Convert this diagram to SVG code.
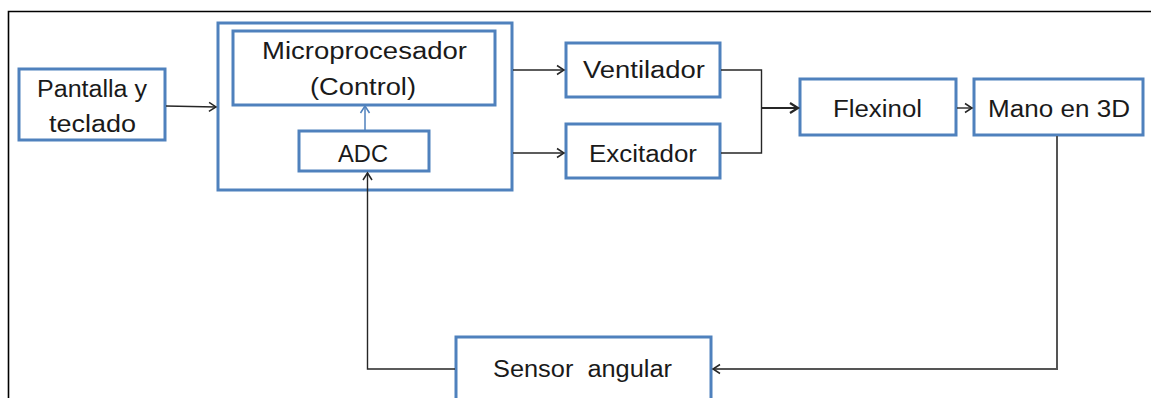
<svg xmlns="http://www.w3.org/2000/svg" width="1151" height="398" viewBox="0 0 1151 398">
  <style>
    .box { fill: #ffffff; stroke: #4f81bd; stroke-width: 3; }
    .lbl { font-family: "Liberation Sans", Arial, sans-serif; font-size: 23px; fill: #1a1a1a; text-anchor: start; }
    .wire { fill: none; stroke: #262626; stroke-width: 1.4; }
    .wire-bold { fill: none; stroke: #262626; stroke-width: 2.2; }
    .wire-grey { fill: none; stroke: #555555; stroke-width: 2; }
    .frame { fill: none; stroke: #000000; stroke-width: 1.6; }
  </style>
  <defs>
    <marker id="arr" markerUnits="userSpaceOnUse" markerWidth="12" markerHeight="12" refX="9" refY="6" orient="auto">
      <path d="M2,1.5 L9,6 L2,10.5" fill="none" stroke="#262626" stroke-width="1.5"/>
    </marker>
    <marker id="arrBold" markerUnits="userSpaceOnUse" markerWidth="14" markerHeight="14" refX="11" refY="7" orient="auto">
      <path d="M3,2 L11,7 L3,12" fill="none" stroke="#262626" stroke-width="2.2"/>
    </marker>
    <marker id="arrBlue" markerUnits="userSpaceOnUse" markerWidth="12" markerHeight="12" refX="9" refY="6" orient="auto">
      <path d="M2,1.5 L9,6 L2,10.5" fill="none" stroke="#4f81bd" stroke-width="1.5"/>
    </marker>
  </defs>

  <rect width="1151" height="398" fill="#ffffff"/>

  <!-- page frame -->
  <path class="frame" d="M8.5,398 V11.5 H1151"/>

  <g id="pantalla">
    <rect class="box" x="19" y="69" width="146" height="71"/>
    <text class="lbl" x="37" y="97" textLength="110" lengthAdjust="spacingAndGlyphs">Pantalla y</text>
    <text class="lbl" x="49" y="132" textLength="87" lengthAdjust="spacingAndGlyphs">teclado</text>
  </g>

  <g id="procesador">
    <rect class="box" x="218" y="23" width="294" height="167"/>
  </g>

  <g id="microprocesador">
    <rect class="box" x="233" y="31" width="262" height="74"/>
    <text class="lbl" x="262" y="59" textLength="205" lengthAdjust="spacingAndGlyphs">Microprocesador</text>
    <text class="lbl" x="310" y="95" textLength="106" lengthAdjust="spacingAndGlyphs">(Control)</text>
  </g>

  <g id="adc">
    <rect class="box" x="299" y="131" width="130" height="40"/>
    <text class="lbl" x="338" y="162" textLength="50" lengthAdjust="spacingAndGlyphs">ADC</text>
  </g>

  <g id="ventilador">
    <rect class="box" x="566" y="43" width="154" height="54"/>
    <text class="lbl" x="583" y="78" textLength="122" lengthAdjust="spacingAndGlyphs">Ventilador</text>
  </g>

  <g id="excitador">
    <rect class="box" x="566" y="124" width="154" height="54"/>
    <text class="lbl" x="589" y="162" textLength="108" lengthAdjust="spacingAndGlyphs">Excitador</text>
  </g>

  <g id="flexinol">
    <rect class="box" x="800" y="79" width="156" height="56"/>
    <text class="lbl" x="833" y="117" textLength="89" lengthAdjust="spacingAndGlyphs">Flexinol</text>
  </g>

  <g id="mano">
    <rect class="box" x="974" y="79" width="169" height="56"/>
    <text class="lbl" x="988" y="117" textLength="142" lengthAdjust="spacingAndGlyphs">Mano en 3D</text>
  </g>

  <g id="sensor">
    <rect class="box" x="456" y="337" width="255" height="70"/>
    <text class="lbl" x="493" y="377" textLength="179" lengthAdjust="spacingAndGlyphs" xml:space="preserve">Sensor  angular</text>
  </g>

  <!-- connectors, drawn over the container box -->
  <g id="connectors">
    <path class="wire" d="M166,106 L216,107" marker-end="url(#arr)"/>
    <path d="M365,130 V106" fill="none" stroke="#4f81bd" stroke-width="1.5" marker-end="url(#arrBlue)"/>
    <path class="wire" d="M513,70 H564" marker-end="url(#arr)"/>
    <path class="wire" d="M513,153 H564" marker-end="url(#arr)"/>
    <path class="wire" d="M721,70 H761.5 V153 H721"/>
    <path class="wire-bold" d="M761.5,108 H798" marker-end="url(#arrBold)"/>
    <path class="wire" d="M957,108 H972" marker-end="url(#arr)"/>
    <path class="wire-grey" d="M1057,136 V369 H713" marker-end="url(#arr)"/>
    <path class="wire" d="M455,369 H367.5 V173" marker-end="url(#arr)"/>
  </g>
</svg>
